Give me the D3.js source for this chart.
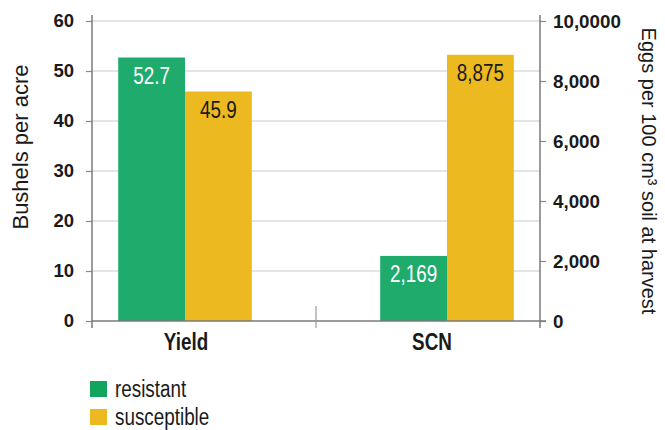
<!DOCTYPE html>
<html>
<head>
<meta charset="utf-8">
<script src="https://cdn.jsdelivr.net/npm/d3@7/dist/d3.min.js"></script>
<style>
  html, body { margin: 0; padding: 0; background: #fff; }
  svg { display: block; }
</style>
</head>
<body>
<svg id="chart" width="665" height="430"></svg>
<script>
// ---- Data ----
const categories = ["Yield", "SCN"];
const seriesNames = ["resistant", "susceptible"];
const yieldValues = [52.7, 45.9];          // bushels per acre (left axis)
const scnValues = [2169, 8875];            // eggs per 100 cm3 soil (right axis)
const leftTicks = [0, 10, 20, 30, 40, 50, 60];
const rightTicks = [0, 2000, 4000, 6000, 8000, 10000];
const rightTickLabels = ["0", "2,000", "4,000", "6,000", "8,000", "10,0000"];

// ---- Styles / layout ----
const colors = ["#1fab6c", "#ecb921"];
const legendColors = ["#13a55e", "#ecb921"];
const labelColors = ["#ffffff", "#1a1a1a"];
const svg = d3.select("#chart");
const pLeft = 92, pRight = 540, pTop = 21, pBottom = 321;
const sans = "'Liberation Sans', Arial, sans-serif";
const condense = 0.82;   // horizontal squeeze to mimic a condensed face
const catLabelShift = { Yield: 1, SCN: -15 };

const x0 = d3.scaleBand().domain(categories).range([pLeft, pRight])
  .paddingInner(0.49).paddingOuter(0.1);
const x1 = d3.scaleBand().domain(seriesNames).range([0, x0.bandwidth()]).padding(0);
const yL = d3.scaleLinear().domain([0, 60]).range([pBottom, pTop]);
const yR = d3.scaleLinear().domain([0, 10000]).range([pBottom, pTop]);

// gridlines
svg.append("g").selectAll("line").data(leftTicks.filter(d => d > 0)).join("line")
  .attr("x1", pLeft).attr("x2", pRight)
  .attr("y1", d => yL(d)).attr("y2", d => yL(d))
  .attr("stroke", "#c9c9c9").attr("stroke-width", 1.2);

// bars
const groups = [
  { cat: "Yield", vals: yieldValues, scale: yL, fmt: d3.format(".1f") },
  { cat: "SCN", vals: scnValues, scale: yR, fmt: d3.format(",") }
];
groups.forEach(g => {
  const gg = svg.append("g").attr("transform", `translate(${x0(g.cat)},0)`);
  gg.selectAll("rect").data(g.vals).join("rect")
    .attr("x", (d, i) => x1(seriesNames[i]))
    .attr("y", d => g.scale(d))
    .attr("width", x1.bandwidth())
    .attr("height", d => pBottom - g.scale(d))
    .attr("fill", (d, i) => colors[i]);
  gg.selectAll("text").data(g.vals).join("text")
    .attr("transform", (d, i) =>
      `translate(${x1(seriesNames[i]) + x1.bandwidth() / 2},${g.scale(d) + 26}) scale(${condense},1)`)
    .attr("text-anchor", "middle")
    .attr("font-family", sans).attr("font-size", 23)
    .attr("fill", (d, i) => labelColors[i])
    .text(d => g.fmt(d));
});

// left axis
const axL = d3.axisLeft(yL).tickValues(leftTicks).tickSize(6).tickPadding(12);
const gL = svg.append("g").attr("transform", `translate(${pLeft},0)`).call(axL);
gL.select(".domain").remove();
gL.selectAll("line").attr("stroke", "#8a8a8a").attr("stroke-width", 1.2);
gL.selectAll("text").attr("font-family", sans).attr("font-weight", "bold")
  .attr("font-size", 18.5).attr("fill", "#1a1a1a");
svg.append("line").attr("x1", pLeft).attr("x2", pLeft).attr("y1", pTop - 6).attr("y2", pBottom + 7)
  .attr("stroke", "#7a7a7a").attr("stroke-width", 1.5);

// right axis
const axR = d3.axisRight(yR).tickValues(rightTicks).tickSize(6).tickPadding(7)
  .tickFormat((d, i) => rightTickLabels[i]);
const gR = svg.append("g").attr("transform", `translate(${pRight},0)`).call(axR);
gR.select(".domain").remove();
gR.selectAll("line").attr("stroke", "#8a8a8a").attr("stroke-width", 1.2);
gR.selectAll("text").attr("font-family", sans).attr("font-weight", "bold")
  .attr("font-size", 18.8).attr("fill", "#1a1a1a");
svg.append("line").attr("x1", pRight).attr("x2", pRight).attr("y1", pTop - 6).attr("y2", pBottom + 7)
  .attr("stroke", "#7a7a7a").attr("stroke-width", 1.5);

// bottom axis
svg.append("line").attr("x1", pLeft).attr("x2", pRight + 6).attr("y1", pBottom).attr("y2", pBottom)
  .attr("stroke", "#7a7a7a").attr("stroke-width", 1.5);
const mid = (x0("Yield") + x0.bandwidth() + x0("SCN")) / 2;
svg.append("line").attr("x1", mid).attr("x2", mid).attr("y1", pBottom - 15).attr("y2", pBottom + 7)
  .attr("stroke", "#9a9a9a").attr("stroke-width", 1.2);
svg.append("g").selectAll("text").data(categories).join("text")
  .attr("transform", d =>
    `translate(${x0(d) + x0.bandwidth() / 2 + catLabelShift[d]},${pBottom + 29}) scale(${condense},1)`)
  .attr("text-anchor", "middle")
  .attr("font-family", sans).attr("font-weight", "bold").attr("font-size", 23)
  .attr("fill", "#1a1a1a")
  .text(d => d);

// axis titles
svg.append("text")
  .attr("transform", `translate(28,147) rotate(-90)`)
  .attr("text-anchor", "middle")
  .attr("font-family", sans).attr("font-size", 22).attr("fill", "#1a1a1a")
  .text("Bushels per acre");
svg.append("text")
  .attr("transform", `translate(642,171) rotate(90)`)
  .attr("text-anchor", "middle")
  .attr("font-family", sans).attr("font-size", 20).attr("fill", "#1a1a1a")
  .text("Eggs per 100 cm³ soil at harvest");

// legend
const lg = svg.append("g").selectAll("g").data(seriesNames).join("g")
  .attr("transform", (d, i) => `translate(90,${381 + i * 28})`);
lg.append("rect").attr("width", 17).attr("height", 16).attr("fill", (d, i) => legendColors[i]);
lg.append("text")
  .attr("transform", `translate(25,16) scale(${condense},1)`)
  .attr("font-family", sans).attr("font-size", 23).attr("fill", "#1a1a1a")
  .text(d => d);
</script>
</body>
</html>
